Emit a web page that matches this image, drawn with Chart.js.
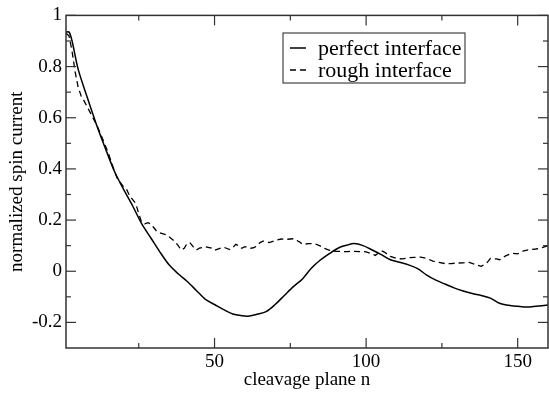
<!DOCTYPE html>
<html>
<head>
<meta charset="utf-8">
<script src="https://cdn.jsdelivr.net/npm/chart.js@4"></script>
<style>
html,body{margin:0;padding:0;background:#fff;}
#wrap{width:549px;height:394px;}
</style>
</head>
<body>
<div id="wrap"><canvas id="c" width="549" height="394"></canvas></div>
<script>
const perfectN = [1,2,3,5,8,11,14,17,20,23,26,29,32,35,38,41,44,47,50,53,56,59,61,64,67,70,73,76,79,82,85,88,91,94,96,99,102,105,108,111,114,117,120,123,126,129,132,135,138,141,144,147,150,153,156,160];
const perfectValues = [0.935,0.935,0.90,0.79,0.68,0.575,0.48,0.39,0.32,0.255,0.185,0.13,0.075,0.025,-0.01,-0.04,-0.075,-0.11,-0.13,-0.15,-0.167,-0.174,-0.176,-0.168,-0.158,-0.13,-0.095,-0.06,-0.03,0.013,0.045,0.07,0.092,0.103,0.108,0.10,0.083,0.065,0.045,0.035,0.025,0.01,-0.015,-0.035,-0.05,-0.065,-0.077,-0.087,-0.095,-0.105,-0.125,-0.133,-0.137,-0.14,-0.137,-0.132];

const roughN = [1,2,3,4,5,6,7,9,11,13,15,17,18,19,20,21,22,23,24,25,26,27,28,29,30,31,32,34,35,36,37,38,39,40,41,42,43,44,45,47,49,50,52,53,55,56,57,58,59,60,62,63,64,65,66,67,68,70,72,74,76,78,79,81,83,85,86,88,90,92,94,96,98,100,102,103,104,105,106,108,110,112,114,116,118,120,122,124,126,128,130,132,134,136,138,140,141,143,144,146,148,150,152,154,156,158,160];
const roughValues = [0.93,0.92,0.86,0.78,0.72,0.685,0.665,0.62,0.575,0.52,0.46,0.39,0.36,0.345,0.33,0.32,0.295,0.28,0.265,0.225,0.19,0.185,0.19,0.185,0.17,0.155,0.15,0.143,0.135,0.125,0.115,0.10,0.083,0.09,0.11,0.11,0.095,0.083,0.09,0.096,0.09,0.082,0.09,0.094,0.085,0.092,0.105,0.10,0.09,0.096,0.09,0.092,0.10,0.112,0.118,0.116,0.112,0.12,0.126,0.125,0.127,0.115,0.105,0.108,0.108,0.098,0.09,0.082,0.078,0.077,0.077,0.078,0.077,0.076,0.068,0.062,0.07,0.08,0.075,0.058,0.05,0.048,0.053,0.054,0.055,0.05,0.04,0.035,0.03,0.03,0.032,0.033,0.035,0.027,0.019,0.035,0.05,0.048,0.045,0.06,0.07,0.068,0.08,0.085,0.087,0.092,0.10];

const seriesLabels = ["perfect interface", "rough interface"];
const xTitle = "cleavage plane n";
const yTitle = "normalized spin current";
const xMajorTicks = [50, 100, 150];
const xMinorTicks = [25, 75, 125];
const yMajorTicks = [-0.2, 0, 0.2, 0.4, 0.6, 0.8, 1];
const yMinorTicks = [-0.1, 0.1, 0.3, 0.5, 0.7, 0.9];

const FONT = "'Liberation Serif', 'Times New Roman', serif";

function pts(xs, ys){ return xs.map((x,i)=>({x:x, y:ys[i]})); }

const boxPlugin = {
  id: 'boxTicksLegend',
  afterDraw(chart){
    const ctx = chart.ctx;
    const a = chart.chartArea;
    const xs = chart.scales.x, ys = chart.scales.y;
    ctx.save();
    ctx.strokeStyle = '#333';
    ctx.lineWidth = 1.5;
    ctx.strokeRect(a.left, a.top, a.right - a.left, a.bottom - a.top);
    ctx.lineWidth = 1.2;
    const tick = (x1,y1,x2,y2)=>{ctx.beginPath();ctx.moveTo(x1,y1);ctx.lineTo(x2,y2);ctx.stroke();};
    xMajorTicks.forEach(v=>{const p=xs.getPixelForValue(v); tick(p,a.bottom,p,a.bottom-10); tick(p,a.top,p,a.top+10);});
    xMinorTicks.forEach(v=>{const p=xs.getPixelForValue(v); tick(p,a.bottom,p,a.bottom-5); tick(p,a.top,p,a.top+5);});
    yMajorTicks.forEach(v=>{const p=ys.getPixelForValue(v); tick(a.left,p,a.left+10,p); tick(a.right,p,a.right-10,p);});
    yMinorTicks.forEach(v=>{const p=ys.getPixelForValue(v); tick(a.left,p,a.left+5,p); tick(a.right,p,a.right-5,p);});
    // legend
    const lx = 283, ly = 33, lw = 182, lh = 50;
    ctx.strokeStyle = '#444';
    ctx.lineWidth = 1.2;
    ctx.strokeRect(lx, ly, lw, lh);
    ctx.fillStyle = '#000';
    ctx.strokeStyle = '#000';
    ctx.font = "22px " + FONT;
    ctx.textBaseline = 'middle';
    ctx.textAlign = 'left';
    const rows = [48, 70];
    chart.data.datasets.forEach((ds, i)=>{
      ctx.lineWidth = 1.5;
      ctx.setLineDash(ds.borderDash || []);
      ctx.beginPath(); ctx.moveTo(290, rows[i]); ctx.lineTo(306, rows[i]); ctx.stroke();
      ctx.setLineDash([]);
      ctx.fillText(ds.label, 318, rows[i] + 1);
    });
    ctx.restore();
  }
};

new Chart(document.getElementById('c'), {
  type: 'line',
  data: {
    datasets: [
      { label: seriesLabels[0], data: pts(perfectN, perfectValues), borderColor: '#000', borderWidth: 1.5, pointRadius: 0, tension: 0.3, fill: false },
      { label: seriesLabels[1], data: pts(roughN, roughValues), borderColor: '#000', borderWidth: 1.3, borderDash: [6,4], pointRadius: 0, tension: 0, fill: false }
    ]
  },
  options: {
    responsive: false,
    animation: false,
    devicePixelRatio: 1,
    layout: { padding: { top: 10, right: 1, left: 0, bottom: 0 } },
    plugins: { legend: { display: false }, tooltip: { enabled: false } },
    scales: {
      x: {
        type: 'linear', min: 1, max: 160,
        grid: { display: false, drawTicks: false, tickLength: 0 },
        border: { display: false },
        afterFit(s){ s.height = 46; },
        afterBuildTicks(s){ s.ticks = xMajorTicks.map(v=>({value:v})); },
        ticks: { color: '#000', font: { family: FONT, size: 19 }, padding: 3, maxRotation: 0, callback: v => String(v) },
        title: { display: true, text: xTitle, color: '#000', font: { family: FONT, size: 19 }, padding: { top: 0, bottom: 3 } }
      },
      y: {
        type: 'linear', min: -0.3, max: 1,
        grid: { display: false, drawTicks: false, tickLength: 0 },
        border: { display: false },
        afterFit(s){ s.width = 66; },
        afterBuildTicks(s){ s.ticks = yMajorTicks.map(v=>({value:v})); },
        ticks: { color: '#000', font: { family: FONT, size: 19 }, padding: 4, callback: v => { const r = Math.round(v*10)/10; return r === 0 ? '0' : String(r); } },
        title: { display: true, text: yTitle, color: '#000', font: { family: FONT, size: 19 }, padding: { top: 6, bottom: 0 } }
      }
    }
  },
  plugins: [boxPlugin]
});
</script>
</body>
</html>
